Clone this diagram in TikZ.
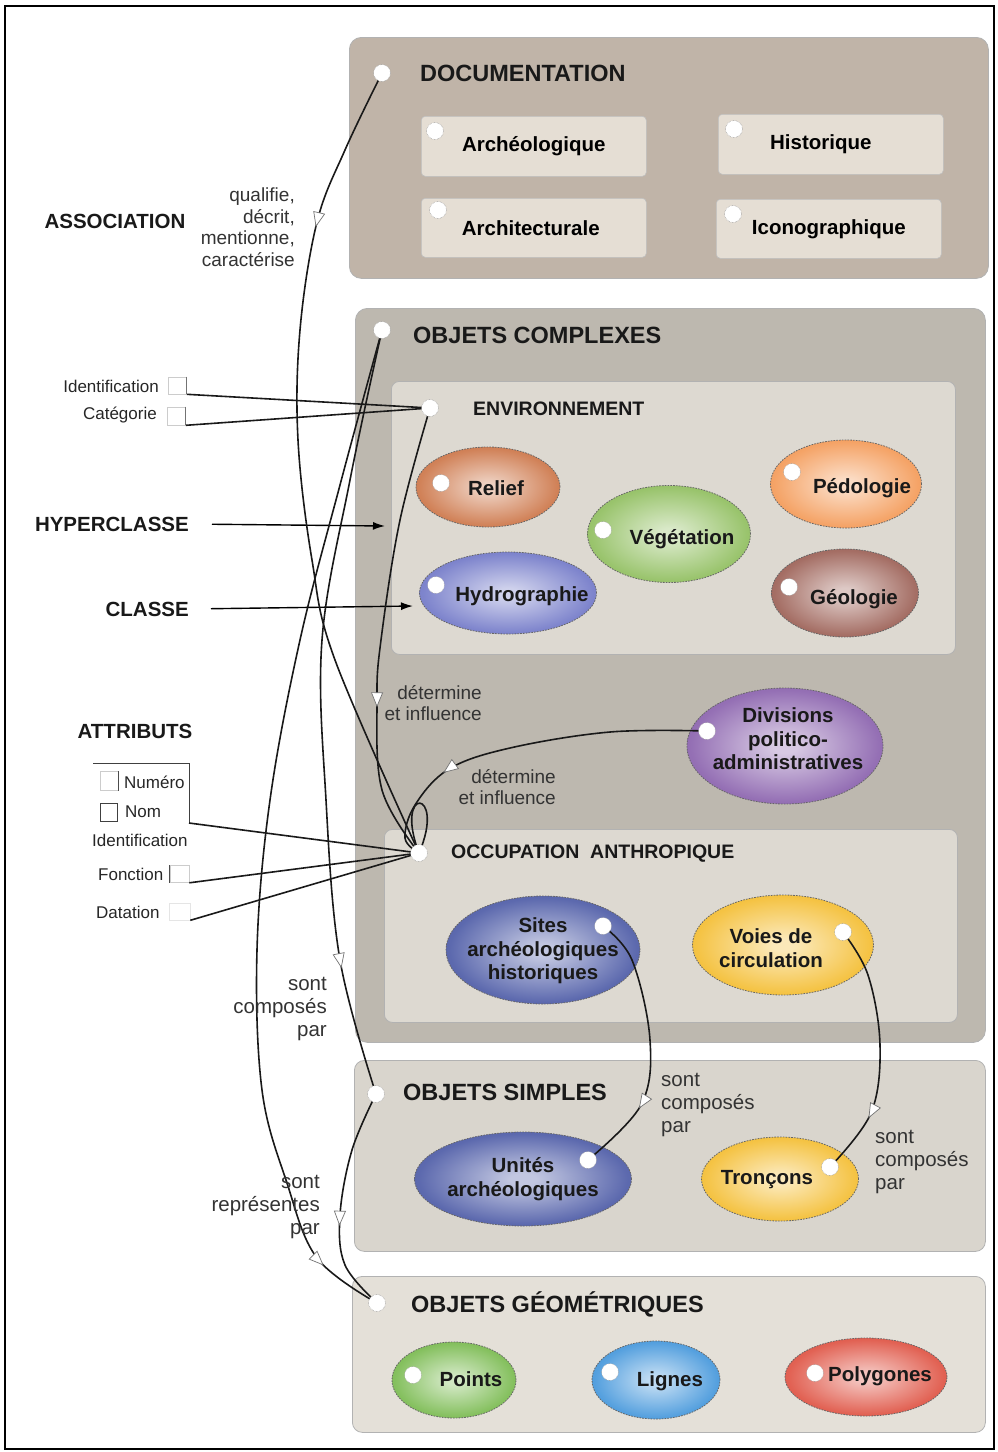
\documentclass[tikz,border=0pt]{standalone}
\usepackage{fontspec}
\setmainfont{Liberation Sans}
\usetikzlibrary{shapes.geometric,arrows.meta,decorations.markings}

\definecolor{docout}{HTML}{C0B4A8}
\definecolor{docin}{HTML}{E5DED4}
\definecolor{ocout}{HTML}{BDB8AF}
\definecolor{ocin}{HTML}{DDD9D1}
\definecolor{osbg}{HTML}{D9D5CD}
\definecolor{ogbg}{HTML}{E4E0D8}
\definecolor{creli}{HTML}{C5622E}
\definecolor{cveg}{HTML}{80B548}
\definecolor{cped}{HTML}{F28C40}
\definecolor{chyd}{HTML}{5E66C0}
\definecolor{cgeo}{HTML}{8E4A3E}
\definecolor{cdiv}{HTML}{7A4CA2}
\definecolor{csit}{HTML}{34449A}
\definecolor{cvoi}{HTML}{F2B415}
\definecolor{cpts}{HTML}{66B036}
\definecolor{clig}{HTML}{2A88D6}
\definecolor{cpol}{HTML}{DA3A28}
\definecolor{ellin}{rgb}{1,1,1}
\definecolor{ellmid}{rgb}{0.7,0.7,0.7}
\definecolor{ellout}{rgb}{0.5,0.5,0.5}
\pgfdeclareradialshading[ellin,ellmid,ellout]{ellshade}{\pgfpoint{0bp}{0bp}}{color(0bp)=(ellin); color(3bp)=(ellin); color(24bp)=(ellmid); color(50bp)=(ellout)}

\newcommand{\ellnode}[5]{\colorlet{ellout}{#5!88!black}\colorlet{ellmid}{#5!80!white}\colorlet{ellin}{#5!30!white}\node[ell, minimum width=#3pt, minimum height=#4pt] (#1) at #2 {};}

\begin{document}
\begin{tikzpicture}[x=1pt,y=-1pt,
  ell/.style={ellipse, shading=ellshade, draw=black!60, dash pattern=on 1.6pt off 1.2pt, line width=0.8pt, inner sep=0pt},
  bigbox/.style={draw=black!30, line width=0.8pt, rounded corners=12pt, anchor=north west, inner sep=0pt},
  smallbox/.style={draw=black!25, line width=0.6pt, fill=docin, rounded corners=4pt, anchor=north west, inner sep=0pt, font=\fontsize{20.5}{24}\selectfont\bfseries},
  ttl/.style={font=\fontsize{23.5}{28}\selectfont\bfseries, anchor=west, inner sep=0pt, text=black!90},
  sub/.style={font=\fontsize{19.5}{23}\selectfont\bfseries, anchor=west, inner sep=0pt, text=black!90},
  lbl/.style={font=\fontsize{20.5}{23.5}\selectfont\bfseries, align=center, inner sep=0pt, text=black!90},
  side/.style={font=\fontsize{20.5}{24}\selectfont\bfseries, inner sep=0pt, text=black!90},
  rel/.style={font=\fontsize{19}{21.5}\selectfont, inner sep=0pt, text=black!80},
  relb/.style={font=\fontsize{20.5}{23.3}\selectfont, inner sep=0pt, text=black!80},
  att/.style={font=\fontsize{17}{20}\selectfont, inner sep=0pt, text=black!85},
  dotc/.style={circle, fill=white, draw=black!45, densely dotted, line width=0.5pt, minimum size=17pt, inner sep=0pt},
  abox/.style={draw=black!20, fill=white, line width=0.6pt, inner sep=0pt},
  conn/.style={line width=1.6pt, draw=black!90},
  midarrow/.style={postaction={decorate}, decoration={markings, mark=at position #1 with {\arrow{Triangle[length=15pt,width=12pt,line width=0.7pt,color=black!55,fill=white]}}}}
]
\useasboundingbox (0,0) rectangle (998,1452);
\draw[line width=2pt] (5,6) rectangle (994,1449);

% ---------- big boxes ----------
\node[bigbox, fill=docout, minimum width=639pt, minimum height=241pt] (docbox) at (349,37) {};
\node[bigbox, fill=ocout, minimum width=630pt, minimum height=734pt] (ocbox) at (355,308) {};
\node[bigbox, fill=ocin, rounded corners=8pt, minimum width=564pt, minimum height=273pt] (envbox) at (391,381) {};
\node[bigbox, fill=ocin, rounded corners=8pt, minimum width=573pt, minimum height=193pt] (occbox) at (384,829) {};
\node[bigbox, fill=osbg, rounded corners=10pt, minimum width=631pt, minimum height=191pt] (osbox) at (354,1060) {};
\node[bigbox, fill=ogbg, rounded corners=10pt, minimum width=633pt, minimum height=156pt] (ogbox) at (352,1276) {};

% documentation sub-boxes
\node[smallbox, minimum width=225pt, minimum height=60pt] (barch) at (421,116) {Archéologique};
\node[smallbox, minimum width=225pt, minimum height=60pt] (bhist) at (718,114) {\hspace*{-20pt}Historique};
\node[smallbox, minimum width=225pt, minimum height=59pt] (barc) at (421,198) {\hspace*{-6pt}Architecturale};
\node[smallbox, minimum width=225pt, minimum height=59pt] (bico) at (716,199) {Iconographique};

% ---------- ellipses ----------
\ellnode{erel}{(488,487)}{144}{80}{creli}
\ellnode{eveg}{(669,534)}{163}{97}{cveg}
\ellnode{eped}{(846,484)}{151}{88}{cped}
\ellnode{ehyd}{(508,593)}{177}{82}{chyd}
\ellnode{egeo}{(845,593)}{147}{88}{cgeo}
\ellnode{ediv}{(785,746)}{196}{116}{cdiv}
\ellnode{esit}{(543,950)}{194}{108}{csit}
\ellnode{evoi}{(783,945)}{181}{100}{cvoi}
\ellnode{euni}{(523,1179)}{217}{94}{csit}
\ellnode{etro}{(780,1179)}{157}{84}{cvoi}
\ellnode{epts}{(454,1380)}{124}{76}{cpts}
\ellnode{elig}{(656,1380)}{128}{78}{clig}
\ellnode{epol}{(866,1377)}{162}{78}{cpol}

% ---------- anchor points of the circles ----------
\coordinate (pdoc) at (382,73);
\coordinate (poc) at (382,330);
\coordinate (penv) at (430,408);
\coordinate (pocc) at (419,853);
\coordinate (pos) at (376,1094);
\coordinate (pog) at (377,1303);
\coordinate (pdiv) at (707,731);
\coordinate (psit) at (603,926);
\coordinate (pvoi) at (843,932);
\coordinate (puni) at (588,1160);
\coordinate (ptro) at (830,1167);

% ---------- left labels ----------
\node[side] (assoc) at (115,221) {ASSOCIATION};
\node[rel, align=right, anchor=east] (qual) at (295,227) {qualifie,\\décrit,\\mentionne,\\caractérise};
\node[side, anchor=east] (hyper) at (189,524) {HYPERCLASSE};
\node[side, anchor=east] (classe) at (189,609) {CLASSE};
\node[side] (attr) at (135,731) {ATTRIBUTS};
\coordinate (hyptip) at (385,526);
\coordinate (clatip) at (413,606);
\draw[line width=1.4pt, -{Latex[length=12pt,width=8pt]}, shorten <=23pt] (hyper.east) -- (hyptip);
\draw[line width=1.4pt, -{Latex[length=12pt,width=8pt]}, shorten <=22pt] (classe.east) -- (clatip);

% environment attributes
\node[att, anchor=east] (tid1) at (159,386) {Identification};
\node[att, anchor=east] (tcat) at (157,415) {Catégorie};
\node[abox, minimum width=18pt, minimum height=17pt] (bid) at (177.5,385.5) {};
\node[abox, minimum width=18pt, minimum height=18pt] (bcat) at (176.5,416) {};
\draw[black!55, line width=0.7pt] (bid.north east) -- (bid.south east);
\draw[black!55, line width=0.7pt] (bcat.north east) -- (bcat.south east);

% occupation attributes
\coordinate (atop) at (93,763);
\coordinate (acorner) at (189,823);
\draw[black!75, line width=0.8pt] (atop) -| (acorner);
\node[abox, minimum width=18pt, minimum height=19pt] (bnum) at (109,781) {};
\draw[black!70, line width=0.7pt] (bnum.north east) -- (bnum.south east);
\node[att, anchor=west] (tnum) at (124,782) {Numéro};
\node[abox, draw=black!75, minimum width=17pt, minimum height=18pt] (bnom) at (108.5,812) {};
\node[att, anchor=west] (tnom) at (125,812) {Nom};
\node[att, anchor=west] (tid2) at (92,840) {Identification};
\node[att, anchor=west] (tfon) at (98,874) {Fonction};
\node[abox, minimum width=19pt, minimum height=17pt] (bfon) at (179.5,874) {};
\draw[black!70, line width=0.7pt] (bfon.north west) -- (bfon.south west);
\node[att, anchor=west] (tdat) at (96,912) {Datation};
\node[abox, draw=black!10, minimum width=21pt, minimum height=17pt] (bdat) at (179.5,911.5) {};

% ---------- connectors ----------
\draw[conn] (bid.south east) -- (penv);
\draw[conn] (bcat.south east) -- (penv);
\draw[conn] (acorner) -- (pocc);
\draw[conn] (bfon.south east) -- (pocc);
\draw[conn] (bdat.south east) -- (pocc);

% documentation -> occupation
\draw[conn, midarrow=168pt] plot[smooth, tension=0.6] coordinates {(pdoc) (345,150) (317,222) (300,330) (298,440) (312,560) (335,660) (pocc)};
% objets complexes -> objets simples
\draw[conn, midarrow=645pt] plot[smooth, tension=0.6] coordinates {(poc) (350,480) (322,640) (326,800) (340,960) (pos)};
% objets complexes -> objets geometriques
\draw[conn, midarrow=962pt] plot[smooth, tension=0.6] coordinates {(poc) (340,485) (300,640) (270,800) (257,950) (262,1090) (287,1183) (317,1258) (pog)};
% environnement -> occupation
\draw[conn, midarrow=305pt] plot[smooth, tension=0.6] coordinates {(penv) (400,520) (381,640) (377,700) (382,790) (pocc)};
% divisions -> occupation
\draw[conn, midarrow=270pt] plot[smooth, tension=0.6] coordinates {(pdiv) (610,732) (510,748) (449,769) (415,805) (405,838) (pocc)};
% loop
\draw[conn] (pocc) .. controls (393,785) and (447,788) .. (pocc);
% objets simples -> objets geometriques
\draw[conn, midarrow=138pt] plot[smooth, tension=0.6] coordinates {(pos) (352,1150) (340,1215) (345,1265) (pog)};
% sites -> unites
\draw[conn, midarrow=198pt] plot[smooth, tension=0.6] coordinates {(psit) (632,960) (650,1040) (641,1105) (puni)};
% voies -> troncons
\draw[conn, midarrow=196pt] plot[smooth, tension=0.6] coordinates {(pvoi) (868,975) (880,1045) (871,1113) (ptro)};

% ---------- circles ----------
\node[dotc] (cdoc) at (pdoc) {};
\node[dotc] (coc) at (poc) {};
\node[dotc] (cenv) at (penv) {};
\node[dotc] (cocc) at (pocc) {};
\node[dotc] (cos) at (pos) {};
\node[dotc] (cog) at (pog) {};
\node[dotc] (cdiv) at (pdiv) {};
\node[dotc] (csit) at (psit) {};
\node[dotc] (cvoi) at (pvoi) {};
\node[dotc] (cuni) at (puni) {};
\node[dotc] (ctro) at (ptro) {};
\node[dotc] (carch) at (435,131) {};
\node[dotc] (chist) at (734,129) {};
\node[dotc] (carc) at (438,210) {};
\node[dotc] (cico) at (733,214) {};
\node[dotc] (crel) at (441,483) {};
\node[dotc] (cveg) at (603,530) {};
\node[dotc] (cped) at (792,472) {};
\node[dotc] (chyd) at (436,585) {};
\node[dotc] (cgeo) at (789,587) {};
\node[dotc] (cpts) at (413,1375) {};
\node[dotc] (clig) at (610,1372) {};
\node[dotc] (cpol) at (815,1373) {};

% ---------- titles ----------
\node[ttl] (tdoc) at (420,73) {DOCUMENTATION};
\node[ttl] (toc) at (413,335) {OBJETS COMPLEXES};
\node[sub] (tenv) at (473,409) {ENVIRONNEMENT};
\node[sub] (tocc) at (451,854) {OCCUPATION\ \ ANTHROPIQUE};
\node[ttl] (tos) at (403,1092) {OBJETS SIMPLES};
\node[ttl] (tog) at (411,1304) {OBJETS GÉOMÉTRIQUES};

% ---------- ellipse labels ----------
\node[lbl] (lrel) at (496,488) {Relief};
\node[lbl] (lveg) at (682,539) {Végétation};
\node[lbl] (lped) at (862,488) {Pédologie};
\node[lbl] (lhyd) at (522,596) {Hydrographie};
\node[lbl] (lgeo) at (854,599) {Géologie};
\node[lbl] (ldiv) at (788,739) {Divisions\\politico-\\administratives};
\node[lbl] (lsit) at (543,951) {Sites\\archéologiques\\historiques};
\node[lbl] (lvoi) at (771,948) {Voies de\\circulation};
\node[lbl] (luni) at (523,1179) {Unités\\archéologiques};
\node[lbl] (ltro) at (767,1180) {Tronçons};
\node[lbl] (lpts) at (471,1379) {Points};
\node[lbl] (llig) at (670,1381) {Lignes};
\node[lbl] (lpol) at (880,1376) {Polygones};

% ---------- relation labels ----------
\node[rel, align=right, anchor=east] (det1) at (482,703) {détermine\\et influence};
\node[rel, align=right, anchor=east] (det2) at (556,787) {détermine\\et influence};
\node[relb, align=right, anchor=east] (comp1) at (327,1009) {sont\\composés\\par};
\node[relb, align=right, anchor=east] (repr) at (320,1207) {sont\\représentes\\par};
\node[relb, align=left, anchor=west] (comp2) at (661,1105) {sont\\composés\\par};
\node[relb, align=left, anchor=west] (comp3) at (875,1162) {sont\\composés\\par};
\end{tikzpicture}
\end{document}
